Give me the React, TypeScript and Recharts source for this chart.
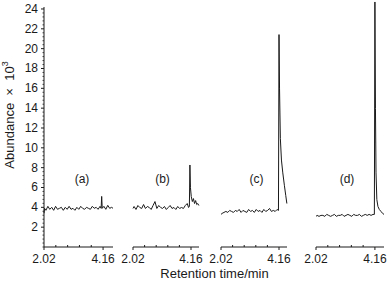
import React from "react";
import { LineChart, Line, XAxis, YAxis } from "recharts";

// retention time (min) and abundance (x10^3)
const aTime = [2.02, 2.04, 2.09, 2.16, 2.23, 2.3, 2.37, 2.44, 2.51, 2.58, 2.65, 2.72, 2.79, 2.86, 2.93, 3.0, 3.07, 3.14, 3.21, 3.28, 3.35, 3.42, 3.49, 3.56, 3.63, 3.7, 3.77, 3.84, 3.91, 3.98, 4.05, 4.09, 4.11, 4.13, 4.19, 4.26, 4.33, 4.4, 4.47, 4.52];
const aAbund = [3.4, 3.9, 3.7, 4.1, 3.8, 4.0, 3.7, 4.1, 3.8, 3.9, 4.0, 3.7, 4.0, 3.8, 4.1, 3.8, 3.9, 3.7, 4.0, 3.8, 4.1, 3.9, 3.8, 4.0, 3.9, 3.8, 4.1, 3.9, 4.0, 3.8, 4.1, 3.9, 5.1, 3.9, 4.1, 3.8, 4.2, 3.9, 4.0, 3.9];

const bTime = [2.02, 2.06, 2.13, 2.2, 2.27, 2.34, 2.41, 2.48, 2.55, 2.62, 2.69, 2.76, 2.83, 2.9, 2.97, 3.04, 3.11, 3.18, 3.25, 3.32, 3.39, 3.46, 3.53, 3.6, 3.67, 3.74, 3.81, 3.88, 3.95, 4.02, 4.07, 4.1, 4.12, 4.14, 4.17, 4.21, 4.25, 4.29, 4.33, 4.37, 4.41, 4.45];
const bAbund = [3.9, 4.1, 3.8, 4.2, 4.0, 3.9, 4.3, 3.9, 4.1, 4.0, 3.8, 4.2, 4.6, 3.9, 4.2, 4.0, 3.9, 4.1, 3.8, 4.0, 4.2, 3.9, 4.0, 3.8, 4.1, 3.9, 4.0, 3.9, 4.2, 4.4, 4.0, 4.1, 8.3, 6.0, 5.1, 4.6, 4.9, 4.4, 4.7, 4.3, 4.4, 4.2];

const cTime = [2.02, 2.06, 2.13, 2.2, 2.27, 2.34, 2.41, 2.48, 2.55, 2.62, 2.69, 2.76, 2.83, 2.9, 2.97, 3.04, 3.11, 3.18, 3.25, 3.32, 3.39, 3.46, 3.53, 3.6, 3.67, 3.74, 3.81, 3.88, 3.95, 4.02, 4.09, 4.14, 4.16, 4.18, 4.21, 4.25, 4.3, 4.36, 4.41, 4.45];
const cAbund = [3.3, 3.4, 3.5, 3.6, 3.5, 3.7, 3.6, 3.5, 3.7, 3.6, 3.8, 3.5, 3.7, 3.6, 3.5, 3.8, 3.6, 3.7, 3.5, 3.8, 3.6, 3.7, 3.5, 3.8, 3.6, 3.7, 3.9, 3.6, 3.7, 3.6, 3.8, 3.7, 21.5, 16, 11, 8.8, 7.5, 6.2, 5.2, 4.4];

const dTime = [2.02, 2.06, 2.13, 2.2, 2.27, 2.34, 2.41, 2.48, 2.55, 2.62, 2.69, 2.76, 2.83, 2.9, 2.97, 3.04, 3.11, 3.18, 3.25, 3.32, 3.39, 3.46, 3.53, 3.6, 3.67, 3.74, 3.81, 3.88, 3.95, 4.02, 4.09, 4.14, 4.16, 4.18, 4.2, 4.23, 4.27, 4.32, 4.38, 4.44, 4.49];
const dAbund = [3.1, 3.2, 3.1, 3.2, 3.2, 3.1, 3.3, 3.2, 3.1, 3.2, 3.3, 3.1, 3.2, 3.2, 3.3, 3.1, 3.2, 3.3, 3.2, 3.1, 3.3, 3.2, 3.2, 3.3, 3.1, 3.2, 3.3, 3.2, 3.3, 3.2, 3.3, 3.3, 24.8, 14, 7.5, 4.8, 4.1, 3.8, 3.6, 3.4, 3.3];

const panelNames = ["(a)", "(b)", "(c)", "(d)"];
const xTicks = [2.02, 2.448, 2.876, 3.304, 3.732, 4.16];
const xLabelTicks = [2.02, 4.16];
const yLabelTicks = [2, 4, 6, 8, 10, 12, 14, 16, 18, 20, 22, 24];
const yMinorStep = 0.4;

const FONT = '"Liberation Sans", Arial, Helvetica, sans-serif';
const INK = "#1a1a1a";

const yTicks = Array.from({ length: 61 }, (_, k) => Math.round(k * yMinorStep * 10) / 10);

const XTick = (props: any) => {
  const { x, y, payload } = props;
  const major = xLabelTicks.includes(payload.value);
  return (
    <g>
      <line x1={x} x2={x} y1={y} y2={major ? y + 3 : y - 2} stroke={INK} />
      {major && (
        <text x={x} y={y + 12} textAnchor="middle" dominantBaseline="central" fontSize={12} fontFamily={FONT} fill={INK}>
          {payload.value.toFixed(2)}
        </text>
      )}
    </g>
  );
};

const YTick = (props: any) => {
  const { x, y, payload } = props;
  const major = yLabelTicks.includes(payload.value);
  return (
    <g>
      <line x1={x - (major ? 3 : 1.5)} x2={x} y1={y} y2={y} stroke={INK} strokeWidth={major ? 1 : 0.8} />
      {major && (
        <text x={x - 6} y={y} textAnchor="end" dominantBaseline="central" fontSize={12} fontFamily={FONT} fill={INK}>
          {payload.value}
        </text>
      )}
    </g>
  );
};

type PanelProps = {
  time: number[];
  abund: number[];
  end: number;
  left: number;
  width: number;
  withAxis?: boolean;
};

const Panel = ({ time, abund, end, left, width, withAxis }: PanelProps) => {
  const data = time.map((t, i) => ({ t, v: abund[i] }));
  const padL = withAxis ? 0 : 20;
  const axisW = withAxis ? 44 : 0;
  return (
    <div style={{ position: "absolute", left: left - padL - axisW, top: 0 }}>
      <LineChart
        width={padL + axisW + width + 15}
        height={281}
        data={data}
        margin={{ top: withAxis ? 7 : 0, right: 15, bottom: 0, left: padL }}
      >
        <XAxis
          dataKey="t"
          type="number"
          domain={[2.02, end]}
          ticks={xTicks}
          interval={0}
          height={34}
          tickSize={0}
          tickMargin={0}
          tickLine={false}
          axisLine={{ stroke: INK }}
          tick={<XTick />}
        />
        {withAxis ? (
          <YAxis
            type="number"
            domain={[0, 24.2]}
            ticks={yTicks}
            interval={0}
            width={44}
            tickSize={0}
            tickMargin={0}
            tickLine={false}
            axisLine={{ stroke: INK }}
            tick={<YTick />}
          />
        ) : (
          <YAxis hide type="number" domain={[0, 25]} />
        )}
        <Line
          type="linear"
          dataKey="v"
          stroke={INK}
          strokeWidth={1}
          dot={false}
          isAnimationActive={false}
        />
      </LineChart>
    </div>
  );
};

const panelLabelX = [82, 162.5, 256.5, 347];

const App = () => {
  return (
    <div
      style={{
        position: "absolute",
        left: 0,
        top: 0,
        width: 389,
        height: 281,
        background: "#fff",
        fontFamily: FONT,
        color: INK,
        overflow: "hidden",
      }}
    >
      <Panel time={aTime} abund={aAbund} end={4.52} left={44} width={69} withAxis />
      <Panel time={bTime} abund={bAbund} end={4.455} left={133} width={66} />
      <Panel time={cTime} abund={cAbund} end={4.455} left={221} width={66} />
      <Panel time={dTime} abund={dAbund} end={4.49} left={316} width={68} />

      {panelNames.map((name, i) => (
        <div
          key={name}
          style={{
            position: "absolute",
            left: panelLabelX[i],
            top: 178.5,
            transform: "translate(-50%, -50%)",
            fontSize: 12,
            lineHeight: "14px",
            whiteSpace: "nowrap",
          }}
        >
          {name}
        </div>
      ))}

      <div
        style={{
          position: "absolute",
          left: 214.5,
          top: 273,
          transform: "translate(-50%, -50%)",
          fontSize: 13,
          lineHeight: "15px",
          whiteSpace: "nowrap",
        }}
      >
        Retention time/min
      </div>

      <div
        style={{
          position: "absolute",
          left: 10,
          top: 114.5,
          transform: "translate(-50%, -50%) rotate(-90deg)",
          fontSize: 13,
          lineHeight: "15px",
          whiteSpace: "nowrap",
        }}
      >
        Abundance&nbsp; ×&nbsp; 10
        <span style={{ fontSize: 9, position: "relative", top: -6 }}>3</span>
      </div>
    </div>
  );
};

export default App;
